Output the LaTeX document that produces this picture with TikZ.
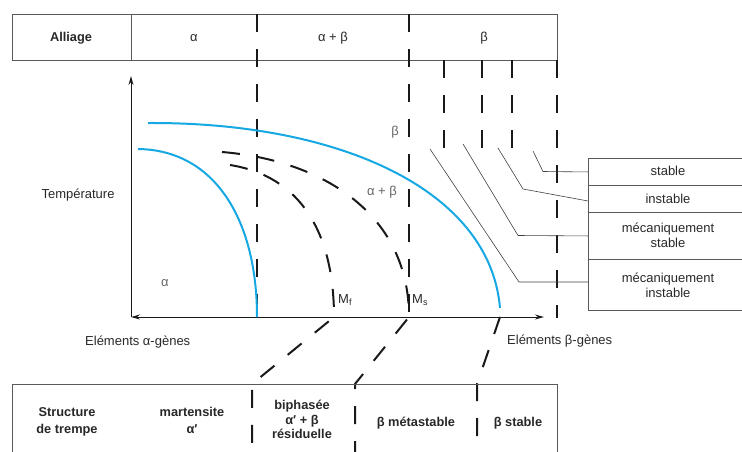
\documentclass[tikz,border=0pt]{standalone}
\usepackage{fontspec}
\setmainfont{Liberation Sans}
\usetikzlibrary{arrows.meta}
\definecolor{curveblue}{RGB}{22,168,226}
\definecolor{txtgray}{RGB}{40,40,40}
\begin{document}
\begin{tikzpicture}[x=1pt,y=-1pt,
  txt/.style={font=\fontsize{13}{15}\selectfont, text=txtgray, inner sep=0pt, anchor=base},
  bld/.style={font=\fontsize{12.8}{15}\selectfont\bfseries, text=txtgray, inner sep=0pt, anchor=base},
  lbl/.style={font=\fontsize{13}{15}\selectfont, text=black!60, inner sep=0pt},
  frame/.style={draw=black!65, line width=0.9pt},
  rowbox/.style={draw=black!65, line width=0.9pt, minimum width=170pt, anchor=north west, inner sep=0pt},
  dashln/.style={draw=black!90, line width=2pt, dash pattern=on 18pt off 17pt},
  bluecurve/.style={draw=curveblue, line width=2pt},
  axis/.style={draw=black!90, line width=1pt},
  leader/.style={draw=black!75, line width=0.6pt},
  tip/.style={-{Stealth[length=9pt,width=5pt]}}
]
\useasboundingbox (0,0) rectangle (742,451);
\clip (0,0) rectangle (742,451);

% ---------- top table ----------
\draw[frame] (12,14) rectangle (557,60);
\draw[frame] (131,14) -- (131,60);
\node[bld] (alliage) at (71,41.5) {Alliage};
\node[txt] (ta) at (194,41) {α};
\node[txt] (tab) at (333,41) {α + β};
\node[txt] (tb) at (484,41) {β};

% ---------- vertical dashed limits ----------
\coordinate (v1t) at (257,14);  \coordinate (v1b) at (257,317);
\coordinate (v2t) at (409,14);  \coordinate (v2b) at (409,317);
\draw[dashln] (v1t) -- (v1b);
\draw[dashln] (v2t) -- (v2b);
\coordinate (s1t) at (444,60); \coordinate (s1b) at (444,150);
\coordinate (s2t) at (482,60); \coordinate (s2b) at (482,150);
\coordinate (s3t) at (512,60); \coordinate (s3b) at (512,150);
\coordinate (s4t) at (557,60); \coordinate (s4b) at (557,318);
\draw[dashln] (s1t) -- (s1b);
\draw[dashln] (s2t) -- (s2b);
\draw[dashln] (s3t) -- (s3b);
\draw[dashln] (s4t) -- (s4b);

% ---------- axes ----------
\coordinate (O) at (131,317);
\coordinate (Ytop) at (131,76);
\coordinate (Xright) at (544,317);
\draw[axis,tip] (O) -- (Ytop);
\draw[axis,{Stealth[length=9pt,width=5pt]}-{Stealth[length=9pt,width=5pt]}] (O) -- (Xright);

\node[txt] (temp) at (78,198) {Température};
\node[txt, anchor=base west] (xa) at (85,345.5) {Eléments α-gènes};
\node[txt, anchor=base west] (xb) at (507,344.5) {Eléments β-gènes};

% ---------- blue curves ----------
\draw[bluecurve] (148,123) .. controls (340,122) and (490,190) .. (500,308);
\draw[bluecurve] (138,149) .. controls (215,150) and (257,220) .. (257,317);

% ---------- dashed transformation curves ----------
\coordinate (mfO) at (334,317);
\coordinate (msO) at (409,317);
\coordinate (bO) at (500,317);
\coordinate (mfT) at (252,384); \coordinate (mfB) at (252,455);
\coordinate (msT) at (355,384); \coordinate (msB) at (355,455);
\coordinate (bT) at (477,384);  \coordinate (bB) at (477,455);
\draw[dashln] (230,165) .. controls (300,176) and (334,232) .. (mfO) -- (mfT) -- (mfB);
\draw[dashln] (222,152) .. controls (320,160) and (409,212) .. (msO) -- (msT) -- (msB);
\draw[dashln] (bO) -- (bT) -- (bB);

\node[txt, anchor=base west] (mf) at (338,303) {M\raisebox{-0.35ex}{\fontsize{9}{9}\selectfont f}};
\node[txt, anchor=base west] (ms) at (412,303) {M\raisebox{-0.35ex}{\fontsize{9}{9}\selectfont s}};

\node[lbl] (lb) at (395,132) {β};
\node[lbl] (lab) at (382,192) {α + β};
\node[lbl] (la) at (165,283) {α};

% ---------- right boxes ----------
\node[rowbox, minimum height=27pt] (bs) at (588,158) {};
\node[rowbox, minimum height=27pt] (bi) at (588,185) {};
\node[rowbox, minimum height=47pt] (bms) at (588,212) {};
\node[rowbox, minimum height=51pt] (bmi) at (588,259) {};
\node[txt] (ts) at (668,175.5) {stable};
\node[txt] (ti) at (668,203) {instable};
\node[txt] (tms1) at (668,232.5) {mécaniquement};
\node[txt] (tms2) at (668,247.5) {stable};
\node[txt] (tmi1) at (668,282.5) {mécaniquement};
\node[txt] (tmi2) at (668,297.5) {instable};

\draw[leader] (533,151) -- (543,171.5) -- (bs.west);
\draw[leader] (498,148) -- (523,189) -- (588,201);
\draw[leader] (463,144) -- (518,235.5) -- (bms.west);
\draw[leader] (430,149) -- (519,282) -- (588,282);

% ---------- bottom table ----------
\draw[frame] (12,470) -- (12,384) -- (557,384) -- (557,470);
\node[bld] (st1) at (67,416) {Structure};
\node[bld] (st2) at (67,433) {de trempe};
\node[bld] (ma1) at (192,416) {martensite};
\node[bld] (ma2) at (192,433) {α′};
\node[bld] (bi1) at (302,409) {biphasée};
\node[bld] (bi2) at (302,424) {α′ + β};
\node[bld] (bi3) at (302,438.5) {résiduelle};
\node[bld] (bm) at (416,426.5) {β métastable};
\node[bld] (bst) at (518,426.5) {β stable};
\end{tikzpicture}
\end{document}
